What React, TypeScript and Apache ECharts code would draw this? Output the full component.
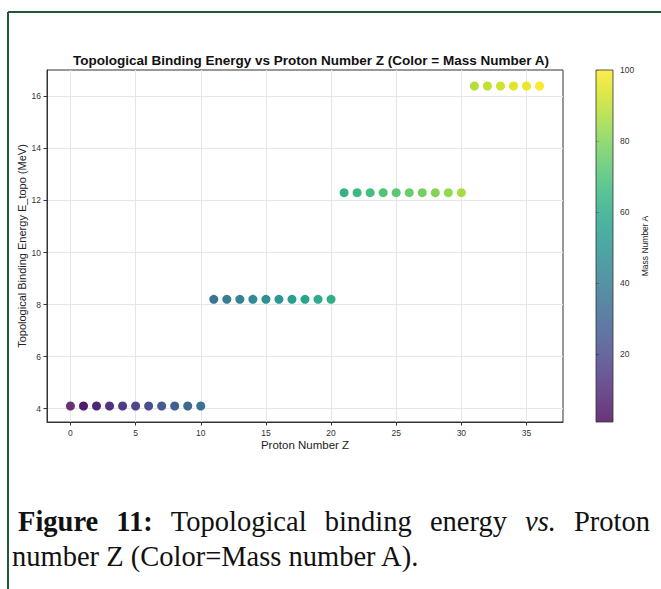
import React, { useEffect, useRef } from "react";
import * as echarts from "echarts";

// ---- data ----
const protonZ = [0, 1, 2, 3, 4, 5, 6, 7, 8, 9, 10, 11, 12, 13, 14, 15, 16, 17, 18, 19, 20, 21, 22, 23, 24, 25, 26, 27, 28, 29, 30, 31, 32, 33, 34, 35, 36];
const energyTopo = [
  4.1, 4.1, 4.1, 4.1, 4.1, 4.1, 4.1, 4.1, 4.1, 4.1, 4.1,
  8.2, 8.2, 8.2, 8.2, 8.2, 8.2, 8.2, 8.2, 8.2, 8.2,
  12.3, 12.3, 12.3, 12.3, 12.3, 12.3, 12.3, 12.3, 12.3, 12.3,
  16.4, 16.4, 16.4, 16.4, 16.4, 16.4,
];
const massA = [1, 5, 8, 12, 15, 19, 22, 25, 28, 31, 35, 37, 40, 42, 45, 48, 51, 54, 57, 60, 62, 63, 66, 68, 71, 73, 76, 78, 81, 83, 86, 88, 90, 92, 95, 97, 100];
const xTicks = [0, 5, 10, 15, 20, 25, 30, 35];
const yTicks = [4, 6, 8, 10, 12, 14, 16];
const cbTicks = [20, 40, 60, 80, 100];
const viridis = [
  "#440154", "#471365", "#482475", "#463480", "#414487", "#3b528b", "#355f8d",
  "#2f6c8e", "#2a788e", "#25848e", "#21918c", "#1e9c89", "#22a884", "#2fb47c",
  "#44bf70", "#5ec962", "#7ad151", "#9bd93c", "#bddf26", "#dfe318", "#fde725",
];
const chartTitle = "Topological Binding Energy vs Proton Number Z (Color = Mass Number A)";
const xName = "Proton Number Z";
const yName = "Topological Binding Energy E_topo (MeV)";
const cbName = "Mass Number A";
const captionLine1 = [
  { t: "Figure", w: "bold", s: "normal" },
  { t: "11:", w: "bold", s: "normal" },
  { t: "Topological", w: "normal", s: "normal" },
  { t: "binding", w: "normal", s: "normal" },
  { t: "energy", w: "normal", s: "normal" },
  { t: "vs.", w: "normal", s: "italic" },
  { t: "Proton", w: "normal", s: "normal" },
];
const captionLine2 = "number Z (Color=Mass number A).";

const SANS = "Liberation Sans, Arial, sans-serif";
const SERIF = "Liberation Serif, Times New Roman, serif";
const CAP_SIZE = 28.5;

export default function App() {
  const ref = useRef<HTMLDivElement>(null);
  useEffect(() => {
    if (!ref.current) return;
    const chart = echarts.init(ref.current, undefined, { renderer: "svg" });

    // justified first caption line
    const ctx = document.createElement("canvas").getContext("2d")!;
    const widths = captionLine1.map((w) => {
      ctx.font = `${w.s} ${w.w} ${CAP_SIZE}px ${SERIF}`;
      return ctx.measureText(w.t).width;
    });
    const x0 = 18, x1 = 650;
    const gap = (x1 - x0 - widths.reduce((a, b) => a + b, 0)) / (captionLine1.length - 1);
    let cx = x0;
    const line1Els = captionLine1.map((w, i) => {
      const el = {
        type: "text",
        x: cx,
        y: 521,
        style: {
          text: w.t,
          font: `${w.s} ${w.w} ${CAP_SIZE}px ${SERIF}`,
          fill: "#111",
          textVerticalAlign: "middle",
        },
      };
      cx += widths[i] + gap;
      return el;
    });

    const pts = protonZ.map((z, i) => ({
      value: [z, energyTopo[i], massA[i]],
      itemStyle: { opacity: z === 0 ? 0.8 : 0.95 },
    }));

    chart.setOption({
      animation: false,
      backgroundColor: "#fff",
      title: {
        text: chartTitle,
        left: 306,
        top: 48,
        textAlign: "center",
        textStyle: { fontFamily: SANS, fontSize: 13.5, fontWeight: "bold", color: "#111" },
      },
      grid: [
        { left: 47, top: 70, width: 516, height: 352, show: true, borderColor: "#333", borderWidth: 1, backgroundColor: "transparent" },
        { left: 596, top: 70, width: 17, height: 352, show: false },
      ],
      xAxis: [
        {
          type: "value",
          gridIndex: 0,
          min: -1.8,
          max: 37.8,
          name: xName,
          nameLocation: "middle",
          nameGap: 17,
          nameMoveOverlap: false,
          nameTextStyle: { fontFamily: SANS, fontSize: 11.5, color: "#222" },
          axisLine: { show: true, onZero: false, lineStyle: { color: "#333", width: 1 } },
          axisTick: { show: true, length: 3.5, lineStyle: { color: "#333" }, customValues: xTicks },
          axisLabel: { fontFamily: SANS, fontSize: 8.5, color: "#333", margin: 6, customValues: xTicks },
          splitLine: { show: true, lineStyle: { color: "#e6e6e6", width: 1 } },
        },
        { type: "value", gridIndex: 1, min: 0, max: 1, show: false },
      ],
      yAxis: [
        {
          type: "value",
          gridIndex: 0,
          min: 3.485,
          max: 17.015,
          name: yName,
          nameLocation: "middle",
          nameGap: 20,
          nameMoveOverlap: false,
          nameRotate: 90,
          nameTextStyle: { fontFamily: SANS, fontSize: 11, color: "#222" },
          axisLine: { show: true, onZero: false, lineStyle: { color: "#333", width: 1 } },
          axisTick: { show: true, length: 3.5, lineStyle: { color: "#333" }, customValues: yTicks },
          axisLabel: { fontFamily: SANS, fontSize: 8.5, color: "#333", margin: 6, customValues: yTicks },
          splitLine: { show: true, lineStyle: { color: "#e6e6e6", width: 1 } },
        },
        {
          type: "value",
          gridIndex: 1,
          position: "right",
          min: 1,
          max: 100,
          name: cbName,
          nameLocation: "middle",
          nameGap: 27,
          nameRotate: 90,
          nameTextStyle: { fontFamily: SANS, fontSize: 8.5, color: "#222" },
          axisLine: { show: false },
          axisTick: { show: true, length: 3, lineStyle: { color: "#333" }, customValues: cbTicks },
          axisLabel: { fontFamily: SANS, fontSize: 8.5, color: "#333", margin: 7, customValues: cbTicks },
          splitLine: { show: false },
        },
      ],
      visualMap: {
        show: false,
        type: "continuous",
        seriesIndex: 0,
        dimension: 2,
        min: 1,
        max: 100,
        inRange: { color: viridis },
      },
      series: [
        {
          type: "scatter",
          xAxisIndex: 0,
          yAxisIndex: 0,
          symbolSize: 9,
          data: pts,
          z: 5,
        },
      ],
      graphic: [
        {
          type: "rect",
          shape: { x: 596, y: 70, width: 17, height: 352 },
          style: {
            fill: new echarts.graphic.LinearGradient(0, 1, 0, 0,
              viridis.map((c, i) => ({ offset: i / (viridis.length - 1), color: c }))),
            opacity: 0.8,
          },
          z: 1,
        },
        {
          type: "rect",
          shape: { x: 596, y: 70, width: 17, height: 352 },
          style: { fill: "none", stroke: "#333", lineWidth: 0.8 },
          z: 2,
        },
        { type: "line", shape: { x1: 8, y1: 12, x2: 661, y2: 12 }, style: { stroke: "#1e5a35", lineWidth: 2 } },
        { type: "line", shape: { x1: 8, y1: 12, x2: 8, y2: 589 }, style: { stroke: "#1e5a35", lineWidth: 2 } },
        ...line1Els,
        {
          type: "text",
          x: 12,
          y: 556,
          style: {
            text: captionLine2,
            font: `normal normal ${CAP_SIZE}px ${SERIF}`,
            fill: "#111",
            textVerticalAlign: "middle",
          },
        },
      ],
    });
    return () => chart.dispose();
  }, []);
  return <div ref={ref} style={{ position: "absolute", left: 0, top: 0, width: 661, height: 589 }} />;
}
